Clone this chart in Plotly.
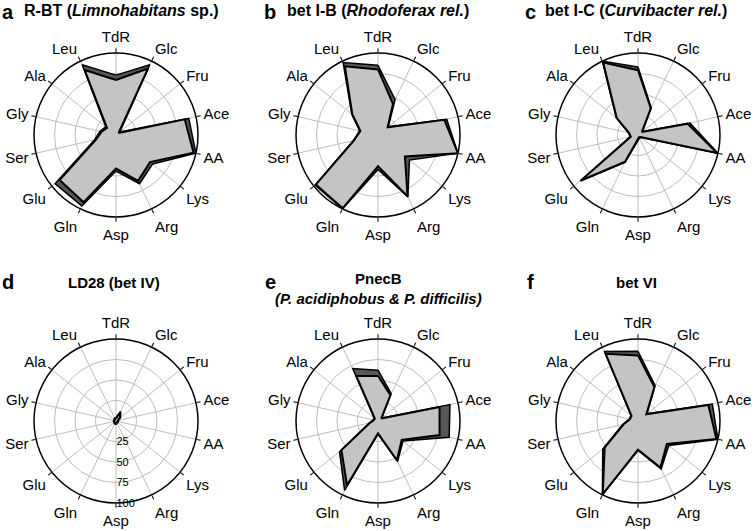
import plotly.graph_objects as go

categories = ["TdR", "Glc", "Fru", "Ace", "AA", "Lys", "Arg", "Asp",
              "Gln", "Glu", "Ser", "Gly", "Ala", "Leu"]

a_mean = [67, 90, 4, 86, 97, 53, 62, 41, 91, 88, 25, 18, 14, 88]
a_upper = [73, 95, 6, 91, 100, 57, 66, 44, 96, 95, 27, 20, 16, 95]

b_mean = [80, 42, 15, 83, 100, 42, 83, 38, 99, 97, 30, 22, 40, 93]
b_upper = [85, 48, 16, 86, 100, 49, 84, 42, 100, 98, 31, 23, 41, 98]

c_mean = [79, 36, 6, 62, 99, 4, 3, 5, 36, 89, 9, 11, 33, 98]
c_upper = [83, 37, 7, 65, 100, 5, 4, 7, 37, 90, 10, 12, 34, 100]

d_mean = [3, 12, 6, 2, 2, 2, 2, 3, 3, 2, 2, 2, 2, 3]
d_upper = [4, 13, 7, 3, 3, 3, 3, 4, 4, 3, 3, 3, 3, 4]

e_mean = [55, 35, 5, 77, 77, 37, 53, 15, 87, 57, 10, 5, 5, 61]
e_upper = [62, 37, 6, 90, 89, 39, 55, 16, 94, 60, 11, 6, 6, 71]

f_mean = [80, 46, 13, 88, 98, 45, 63, 35, 99, 52, 18, 10, 10, 91]
f_upper = [85, 48, 14, 93, 100, 48, 65, 36, 100, 55, 19, 11, 11, 94]

panel_letters = ["a", "b", "c", "d", "e", "f"]
panel_titles = [
    "<b>R-BT (<i>Limnohabitans</i> sp.)</b>",
    "<b>bet I-B (<i>Rhodoferax rel.</i>)</b>",
    "<b>bet I-C (<i>Curvibacter rel.</i>)</b>",
    "<b>LD28 (bet IV)</b>",
    "<b>PnecB</b><br><b><i>(P. acidiphobus &amp; P. difficilis)</i></b>",
    "<b>bet VI</b>",
]
radial_ticks = [25, 50, 75, 100]

means = [a_mean, b_mean, c_mean, d_mean, e_mean, f_mean]
uppers = [a_upper, b_upper, c_upper, d_upper, e_upper, f_upper]

W, H = 755, 531
centers = [(116, 135), (378, 135), (638, 135), (116, 421), (378, 421), (638, 421)]
title_x = [121, 378, 636, 114, 378, 636]
R = 82
FONT = "Liberation Sans, Arial, sans-serif"

fig = go.Figure()
layout = dict(width=W, height=H, margin=dict(l=0, r=0, t=0, b=0),
              paper_bgcolor="white", showlegend=False,
              font=dict(family=FONT, color="black"))
annotations = []

for i in range(6):
    pid = "polar" if i == 0 else f"polar{i+1}"
    cx, cy = centers[i]
    theta = categories + [categories[0]]
    up = uppers[i] + [uppers[i][0]]
    mn = means[i] + [means[i][0]]
    fig.add_trace(go.Scatterpolar(r=up, theta=theta, subplot=pid, mode="lines",
                                  fill="toself", fillcolor="#575757",
                                  line=dict(color="black", width=1.5)))
    fig.add_trace(go.Scatterpolar(r=mn, theta=theta, subplot=pid, mode="lines",
                                  fill="toself", fillcolor="#c4c4c4",
                                  line=dict(color="black", width=2)))
    show_r = (i == 3)
    layout[pid] = dict(
        domain=dict(x=[(cx - R) / W, (cx + R) / W],
                    y=[(H - cy - R) / H, (H - cy + R) / H]),
        bgcolor="white",
        angularaxis=dict(categoryorder="array", categoryarray=categories,
                         rotation=90, direction="clockwise",
                         showline=True, linecolor="black", linewidth=1.5,
                         gridcolor="#bdbdbd", gridwidth=1.3,
                         ticks="outside", ticklen=4, tickcolor="black",
                         tickfont=dict(size=15, family=FONT, color="black")),
        radialaxis=dict(range=[0, 100], tickvals=radial_ticks,
                        ticktext=[str(v) for v in radial_ticks],
                        showticklabels=show_r, showline=False, ticks="",
                        angle=-90, side="counterclockwise", tickangle=-90,
                        gridcolor="#bdbdbd", gridwidth=1.3,
                        tickfont=dict(size=11, family=FONT, color="black")),
    )
    lx = cx - 116 + 8
    ly = 12 if i < 3 else 282
    annotations.append(dict(text=f"<b>{panel_letters[i]}</b>", x=lx, y=ly,
                            xref="paper", yref="paper", showarrow=False,
                            font=dict(size=20, family=FONT)))
    if i < 3:
        ty = 11
    elif i == 4:
        ty = 288
    else:
        ty = 282
    annotations.append(dict(text=panel_titles[i], x=title_x[i], y=ty,
                            xref="paper", yref="paper", showarrow=False,
                            font=dict(size=16 if i < 3 else 15, family=FONT)))

for ann in annotations:
    ann["x"] = ann["x"] / W
    ann["y"] = (H - ann["y"]) / H
    ann["xanchor"] = "center"
    ann["yanchor"] = "middle"
layout["annotations"] = annotations
fig.update_layout(**layout)
fig.write_html("out.html", config={"displayModeBar": False},
               post_script="document.body.style.margin='0';document.body.style.overflow='hidden';")
